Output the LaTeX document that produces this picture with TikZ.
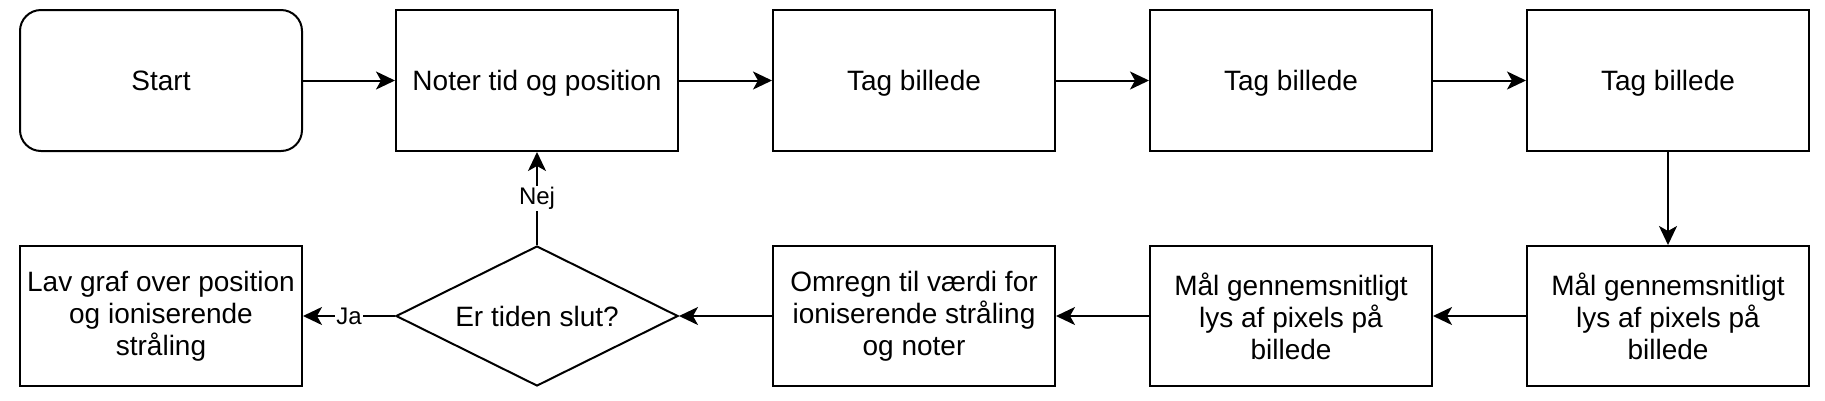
\documentclass[tikz,border=0pt]{standalone}
\usepackage{fontspec}
\setmainfont{Liberation Sans}
\usetikzlibrary{shapes.geometric,arrows.meta}
\begin{document}
\begin{tikzpicture}[x=1pt,y=-1pt,
  every node/.style={font=\fontsize{28}{32}\selectfont, align=center},
  box/.style={draw, line width=2pt, minimum width=282pt, minimum height=141pt, inner sep=2pt},
  oneline/.style={text height=20pt, text depth=0pt},
  rbox/.style={box, rounded corners=21pt},
  decision/.style={draw, line width=2pt, shape=diamond, aspect=2, minimum width=282pt, minimum height=140pt, inner sep=0pt},
  conn/.style={line width=2pt, -{Stealth[length=19pt,width=18pt,inset=5pt]}},
  lbl/.style={font=\fontsize{24}{28}\selectfont, fill=white, inner sep=1.5pt}]
\useasboundingbox (0,0) rectangle (1825,400);
\node[rbox, oneline] (start) at (161,80.5) {Start};
\node[box, oneline] (noter) at (537,80.5) {Noter tid og position};
\node[box, oneline] (tag1) at (914,80.5) {Tag billede};
\node[box, oneline] (tag2) at (1291,80.5) {Tag billede};
\node[box, oneline] (tag3) at (1668,80.5) {Tag billede};
\node[box, minimum height=140pt] (lav) at (161,316) {Lav graf over position\\og ioniserende\\stråling};
\node[decision] (slut) at (537,316) {Er tiden slut?};
\node[box, minimum height=140pt] (omregn) at (914,316) {Omregn til værdi for\\ioniserende stråling\\og noter};
\node[box, minimum height=140pt] (maal1) at (1291,316) {Mål gennemsnitligt\\lys af pixels på\\billede};
\node[box, minimum height=140pt] (maal2) at (1668,316) {Mål gennemsnitligt\\lys af pixels på\\billede};
\draw[conn] (start) -- (noter);
\draw[conn] (noter) -- (tag1);
\draw[conn] (tag1) -- (tag2);
\draw[conn] (tag2) -- (tag3);
\draw[conn] (tag3) -- (maal2);
\draw[conn] (maal2) -- (maal1);
\draw[conn] (maal1) -- (omregn);
\draw[conn] (omregn) -- (slut.east);
\draw[conn] (slut.west) -- node[lbl] {Ja} (lav);
\draw[conn] (slut.north) -- node[lbl] {Nej} (noter);
\end{tikzpicture}
\end{document}
